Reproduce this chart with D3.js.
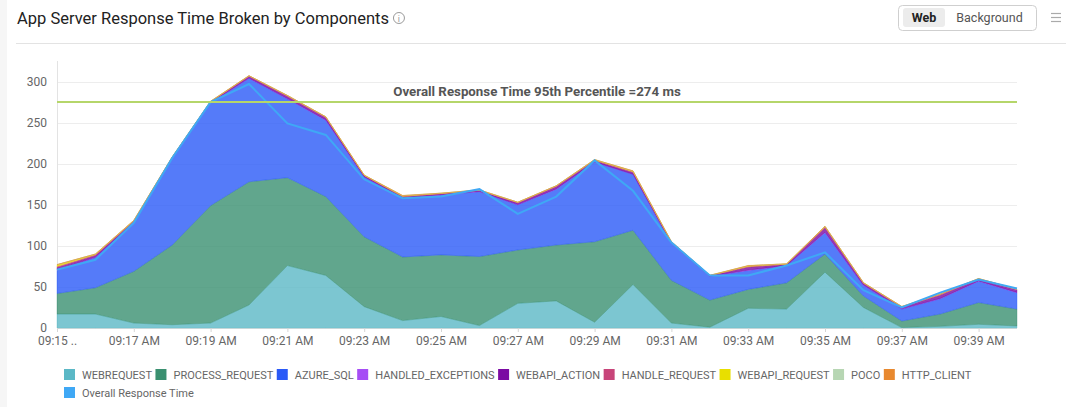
<!DOCTYPE html>
<html>
<head>
<meta charset="utf-8">
<script src="https://cdn.jsdelivr.net/npm/d3@7"></script>
<style>
  body { margin: 0; background: #fff; font-family: Roboto, "Noto Sans", sans-serif; }
  #chart { width: 1066px; height: 407px; }
</style>
</head>
<body>
<div id="chart"></div>
<script>
// minutes on the x axis
var times = ["09:15", "09:16", "09:17", "09:18", "09:19", "09:20", "09:21", "09:22", "09:23",
    "09:24", "09:25", "09:26", "09:27", "09:28", "09:29", "09:30", "09:31", "09:32", "09:33",
    "09:34", "09:35", "09:36", "09:37", "09:38", "09:39", "09:40"];
var tickTimes = ["09:15", "09:17", "09:19", "09:21", "09:23", "09:25", "09:27", "09:29", "09:31",
    "09:33", "09:35", "09:37", "09:39"];
var tickLabels = ["09:15 ..", "09:17 AM", "09:19 AM", "09:21 AM", "09:23 AM", "09:25 AM", "09:27 AM",
    "09:29 AM", "09:31 AM", "09:33 AM", "09:35 AM", "09:37 AM", "09:39 AM"];
var yTicks = [0, 50, 100, 150, 200, 250, 300];

// component series (ms)
var webRequest = [17, 17, 6, 4, 6, 28, 76, 64, 26, 9, 14, 3, 30, 33, 7, 53, 6, 1, 24, 23, 68, 25, 0.5, 2, 4.5, 2.5];
var processRequest = [25, 32, 63, 97, 143, 150, 107, 96, 85, 77.5, 75, 84, 65, 68, 98, 66, 52, 33, 23, 32, 22, 14, 8, 15, 26.5, 20.5];
var azureSql = [28, 37, 59, 106, 125, 126, 96, 93, 73, 71.5, 73, 79, 55, 68, 97, 68, 45, 29, 23, 21, 26, 13, 14.5, 18.5, 26, 20];
var handledExceptions = [0.5, 0.3, 0.2, 0.1, 0.2, 0.2, 0.3, 0.3, 0.2, 0.3, 0.2, 0.2, 0.2, 0.3, 0.2, 0.3, 0.2, 0.1, 0.5, 0.2, 0.6, 0.3, 0.3, 0.5, 0.3, 0.3];
var webapiAction = [3, 2, 1.5, 0.5, 1, 2, 2.5, 2.5, 1, 1.5, 1, 1, 2, 2.5, 1.5, 2, 1, 0.5, 3.5, 1, 5, 2, 2, 4, 2, 3];
var handleRequest = [1.5, 1, 0.8, 0.3, 0.5, 0.7, 1, 1, 0.5, 0.5, 0.5, 0.5, 0.7, 1, 0.7, 1, 0.5, 0.3, 1, 0.5, 1.5, 0.6, 0.6, 1, 0.6, 0.8];
var webapiRequest = [2, 0.7, 0.5, 0.2, 0.3, 0.2, 0.3, 0.3, 0.4, 0.8, 0.4, 0.4, 0.2, 0.3, 0.6, 0.8, 0.4, 0.2, 0.8, 0.4, 0.7, 0.3, 0.3, 0.3, 0.3, 0.1];
var poco = [0, 0, 0, 0, 0, 0, 0, 0, 0, 0, 0, 0, 0, 0, 0, 0, 0, 0, 0, 0, 0, 0, 0, 0, 0, 0];
var httpClient = [0.3, 0, 0, 0, 0, 0, 0, 0, 0, 0.3, 0, 0, 0, 0, 0, 0.3, 0, 0, 0.3, 0, 0, 0, 0, 0, 0, 0];
var overallResponse = [71, 83, 128, 207, 275, 297, 249, 235, 181, 158, 160, 169, 139, 160, 204, 167, 104, 64, 64, 76, 92, 46, 25, 43, 59, 48];
var percentile95 = 274;

var seriesNames = ["WEBREQUEST", "PROCESS_REQUEST", "AZURE_SQL", "HANDLED_EXCEPTIONS", "WEBAPI_ACTION",
    "HANDLE_REQUEST", "WEBAPI_REQUEST", "POCO", "HTTP_CLIENT"];
var seriesValues = [webRequest, processRequest, azureSql, handledExceptions, webapiAction,
    handleRequest, webapiRequest, poco, httpClient];
var seriesColors = ["#5bb8c6", "#3a9070", "#2a5af7", "#a64ef5", "#7b0ba3", "#c8457a", "#e8df00", "#b7d6b3", "#e8892f"];
var overallColor = "#3fa8f5";

var width = 1066;
var height = 407;
var plotLeft = 57, plotRight = 1017, plotTop = 61, plotBottom = 328;

var rows = times.map(function (t, i) {
    var r = { time: t };
    seriesNames.forEach(function (n, k) { r[n] = seriesValues[k][i]; });
    return r;
});

var svg = d3.select("#chart").append("svg")
    .attr("width", width)
    .attr("height", height);

// page chrome
svg.append("rect").attr("x", 0).attr("y", 0).attr("width", 7).attr("height", height).attr("fill", "#f6f6f6");
svg.append("line").attr("x1", 16).attr("x2", width).attr("y1", 43.5).attr("y2", 43.5)
    .attr("stroke", "#e3e3e3");

var title = svg.append("text")
    .attr("x", 17).attr("y", 24)
    .attr("font-size", 16.5)
    .attr("fill", "#222")
    .text("App Server Response Time Broken by Components");
var tw = title.node().getComputedTextLength();
var info = svg.append("g").attr("transform", "translate(" + (17 + tw + 10) + ",18)");
info.append("circle").attr("r", 5.5).attr("fill", "none").attr("stroke", "#9a9a9a").attr("stroke-width", 1);
info.append("text").attr("y", 3.5).attr("text-anchor", "middle").attr("font-size", 9)
    .attr("fill", "#9a9a9a").text("i");

// Web / Background toggle
svg.append("rect").attr("x", 898.5).attr("y", 5.5).attr("width", 138).attr("height", 25).attr("rx", 4)
    .attr("fill", "#fff").attr("stroke", "#cfcfcf");
svg.append("rect").attr("x", 903).attr("y", 8).attr("width", 42).attr("height", 19).attr("rx", 3)
    .attr("fill", "#ececec");
svg.append("text").attr("x", 924).attr("y", 22).attr("text-anchor", "middle").attr("font-size", 12.5)
    .attr("font-weight", "bold").attr("fill", "#222").text("Web");
svg.append("text").attr("x", 989.5).attr("y", 22).attr("text-anchor", "middle").attr("font-size", 12.5)
    .attr("fill", "#555").text("Background");
[13.5, 17.5, 21.5].forEach(function (yy) {
    svg.append("line").attr("x1", 1051).attr("x2", 1061).attr("y1", yy).attr("y2", yy)
        .attr("stroke", "#aaa").attr("stroke-width", 1.2);
});

var x = d3.scalePoint().domain(times).range([plotLeft, plotRight]);
var y = d3.scaleLinear().domain([0, 325]).range([plotBottom, plotTop]);

// grid
svg.append("g").selectAll("line").data(yTicks).enter().append("line")
    .attr("x1", plotLeft).attr("x2", plotRight)
    .attr("y1", function (d) { return Math.round(y(d)) + 0.5; })
    .attr("y2", function (d) { return Math.round(y(d)) + 0.5; })
    .attr("stroke", function (d) { return d === 0 ? "#dcdcdc" : "#ededed"; });
svg.append("line").attr("x1", plotLeft + 0.5).attr("x2", plotLeft + 0.5)
    .attr("y1", plotTop).attr("y2", plotBottom).attr("stroke", "#e3e3e3");

// y axis labels
var yAxis = svg.append("g")
    .attr("transform", "translate(" + (plotLeft - 10) + ",0)")
    .call(d3.axisLeft(y).tickValues(yTicks).tickSize(0).tickPadding(0));
yAxis.select(".domain").remove();
yAxis.selectAll("text").attr("font-size", 12).attr("fill", "#666").attr("font-family", "Roboto");

// stacked areas
var stack = d3.stack().keys(seriesNames);
var layers = stack(rows);

var area = d3.area()
    .x(function (d) { return x(d.data.time); })
    .y0(function (d) { return y(d[0]); })
    .y1(function (d) { return y(d[1]); });

svg.append("g").selectAll("path")
    .data(layers)
    .enter().append("path")
    .attr("d", area)
    .attr("fill", function (d, i) { return seriesColors[i]; })
    .attr("fill-opacity", 0.8)
    .attr("stroke", function (d, i) { return seriesColors[i]; })
    .attr("stroke-opacity", 0.6)
    .attr("stroke-width", 0.6);

// overall line
var line = d3.line()
    .x(function (d, i) { return x(times[i]); })
    .y(function (d) { return y(d); });
svg.append("path")
    .datum(overallResponse)
    .attr("d", line)
    .attr("fill", "none")
    .attr("stroke", overallColor)
    .attr("stroke-width", 2);

// percentile line
svg.append("line")
    .attr("x1", plotLeft).attr("x2", plotRight)
    .attr("y1", y(percentile95) - 1).attr("y2", y(percentile95) - 1)
    .attr("stroke", "#b5d66a").attr("stroke-width", 2);
svg.append("text")
    .attr("x", (plotLeft + plotRight) / 2).attr("y", y(percentile95) - 7)
    .attr("text-anchor", "middle")
    .attr("font-size", 13.3).attr("font-weight", "bold").attr("fill", "#555")
    .text("Overall Response Time 95th Percentile =" + percentile95 + " ms");

// x axis
var xAxis = svg.append("g")
    .attr("transform", "translate(0," + plotBottom + ")")
    .call(d3.axisBottom(x).tickValues(tickTimes).tickSize(4).tickPadding(4)
        .tickFormat(function (d, i) { return tickLabels[i]; }));
xAxis.select(".domain").remove();
xAxis.selectAll("line").attr("stroke", "#d6d6d6");
xAxis.selectAll("text").attr("font-size", 12).attr("fill", "#666").attr("font-family", "Roboto");

// legend
var legendItems = seriesNames.map(function (n, i) { return { name: n, color: seriesColors[i] }; });
legendItems.push({ name: "Overall Response Time", color: overallColor });
var lx = 64, ly = 369;
legendItems.forEach(function (d, i) {
    if (i === legendItems.length - 1) { lx = 64; ly = 387; }
    var g = svg.append("g").attr("transform", "translate(" + lx + "," + ly + ")");
    g.append("rect").attr("width", 11).attr("height", 11).attr("fill", d.color);
    var t = g.append("text").attr("x", 18).attr("y", 9.5).attr("font-size", 11).attr("fill", "#666")
        .text(d.name);
    lx += 18 + t.node().getComputedTextLength() + 3.5;
});
</script>
</body>
</html>
